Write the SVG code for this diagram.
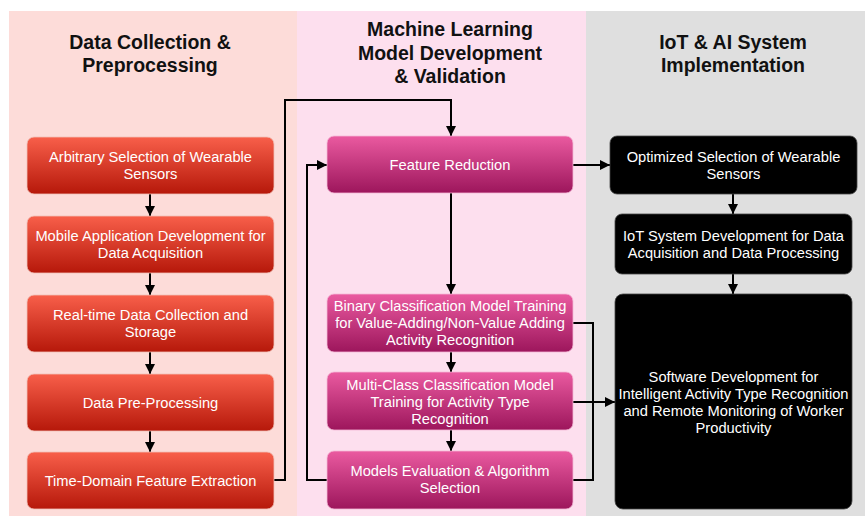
<svg xmlns="http://www.w3.org/2000/svg" width="865" height="518" viewBox="0 0 865 518">
  <defs>
    <linearGradient id="gRed" x1="0" y1="0" x2="0" y2="1">
      <stop offset="0" stop-color="#f85f4a"/>
      <stop offset="1" stop-color="#b6180a"/>
    </linearGradient>
    <linearGradient id="gPink" x1="0" y1="0" x2="0" y2="1">
      <stop offset="0" stop-color="#ea5aa0"/>
      <stop offset="1" stop-color="#9d165c"/>
    </linearGradient>
    <marker id="arr" viewBox="0 0 10 10" refX="10" refY="5" markerWidth="10" markerHeight="10" markerUnits="userSpaceOnUse" orient="auto">
      <path d="M0,0 L10,5 L0,10 Z" fill="#000"/>
    </marker>
  </defs>
  <style>
    .title { font-family: "Liberation Sans", Arial, sans-serif; font-weight: bold; font-size: 19.5px; fill: #111; text-anchor: middle; }
    .lbl { font-family: "Liberation Sans", Arial, sans-serif; font-size: 14.7px; fill: #fff; text-anchor: middle; }
    .red { fill: url(#gRed); stroke: #f0c0b8; stroke-width: 0.8; }
    .pink { fill: url(#gPink); stroke: #f4b8d6; stroke-width: 0.8; }
    .blk { fill: #000; stroke: #444; stroke-width: 0.8; }
    .ln { fill: none; stroke: #000; stroke-width: 2; }
  </style>

  <rect width="865" height="518" fill="#fff"/>

  <!-- column backgrounds -->
  <g id="lanes">
    <rect x="9" y="11" width="289" height="505" fill="#fddcd9"/>
    <rect x="297" y="11" width="289" height="505" fill="#fddfee"/>
    <rect x="586" y="11" width="279" height="505" fill="#dfdfdf"/>
  </g>

  <!-- column headings -->
  <g id="headings">
    <text class="title" x="150" y="49">Data Collection &amp;</text>
    <text class="title" x="150" y="72">Preprocessing</text>
    <text class="title" x="450" y="36">Machine Learning</text>
    <text class="title" x="450" y="59.5">Model Development</text>
    <text class="title" x="450" y="83">&amp; Validation</text>
    <text class="title" x="733" y="49">IoT &amp; AI System</text>
    <text class="title" x="733" y="72">Implementation</text>
  </g>

  <!-- connectors -->
  <g id="connectors">
    <line class="ln" x1="150" y1="194" x2="150" y2="216" marker-end="url(#arr)"/>
    <line class="ln" x1="150" y1="273" x2="150" y2="295" marker-end="url(#arr)"/>
    <line class="ln" x1="150" y1="352" x2="150" y2="374" marker-end="url(#arr)"/>
    <line class="ln" x1="150" y1="431" x2="150" y2="452" marker-end="url(#arr)"/>
    <polyline class="ln" points="274,480 285,480 285,100 451,100 451,136" marker-end="url(#arr)"/>
    <polyline class="ln" points="327,480 307,480 307,165 327,165" marker-end="url(#arr)"/>
    <line class="ln" x1="451" y1="193" x2="451" y2="294" marker-end="url(#arr)"/>
    <line class="ln" x1="451" y1="352" x2="451" y2="372" marker-end="url(#arr)"/>
    <line class="ln" x1="451" y1="430" x2="451" y2="451" marker-end="url(#arr)"/>
    <polyline class="ln" points="573,323 593,323 593,480 573,480"/>
    <line class="ln" x1="573" y1="402" x2="615" y2="402" marker-end="url(#arr)"/>
    <line class="ln" x1="573" y1="165" x2="610" y2="165" marker-end="url(#arr)"/>
    <line class="ln" x1="733" y1="194" x2="733" y2="214" marker-end="url(#arr)"/>
    <line class="ln" x1="733" y1="274" x2="733" y2="294" marker-end="url(#arr)"/>
  </g>

  <!-- data collection column -->
  <g id="n-arbitrary">
    <rect class="red" x="27" y="137" width="247" height="57" rx="7"/>
    <text class="lbl" x="150.5" y="162">Arbitrary Selection of Wearable</text>
    <text class="lbl" x="150.5" y="179">Sensors</text>
  </g>
  <g id="n-mobile">
    <rect class="red" x="27" y="216" width="247" height="57" rx="7"/>
    <text class="lbl" x="150.5" y="241">Mobile Application Development for</text>
    <text class="lbl" x="150.5" y="258">Data Acquisition</text>
  </g>
  <g id="n-realtime">
    <rect class="red" x="27" y="295" width="247" height="57" rx="7"/>
    <text class="lbl" x="150.5" y="320">Real-time Data Collection and</text>
    <text class="lbl" x="150.5" y="337">Storage</text>
  </g>
  <g id="n-preproc">
    <rect class="red" x="27" y="374" width="247" height="57" rx="7"/>
    <text class="lbl" x="150.5" y="407.5">Data Pre-Processing</text>
  </g>
  <g id="n-timedomain">
    <rect class="red" x="27" y="452" width="247" height="57" rx="7"/>
    <text class="lbl" x="150.5" y="485.5">Time-Domain Feature Extraction</text>
  </g>

  <!-- model development column -->
  <g id="n-reduction">
    <rect class="pink" x="327" y="136" width="246" height="57" rx="7"/>
    <text class="lbl" x="450" y="170">Feature Reduction</text>
  </g>
  <g id="n-binary">
    <rect class="pink" x="327" y="294" width="246" height="58" rx="7"/>
    <text class="lbl" x="450" y="311">Binary Classification Model Training</text>
    <text class="lbl" x="450" y="328">for Value-Adding/Non-Value Adding</text>
    <text class="lbl" x="450" y="345">Activity Recognition</text>
  </g>
  <g id="n-multiclass">
    <rect class="pink" x="327" y="372" width="246" height="58" rx="7"/>
    <text class="lbl" x="450" y="389.5">Multi-Class Classification Model</text>
    <text class="lbl" x="450" y="406.5">Training for Activity Type</text>
    <text class="lbl" x="450" y="423.5">Recognition</text>
  </g>
  <g id="n-evaluation">
    <rect class="pink" x="327" y="451" width="246" height="58" rx="7"/>
    <text class="lbl" x="450" y="476">Models Evaluation &amp; Algorithm</text>
    <text class="lbl" x="450" y="493">Selection</text>
  </g>

  <!-- implementation column -->
  <g id="n-optimized">
    <rect class="blk" x="610" y="136" width="247" height="58" rx="7"/>
    <text class="lbl" x="733.5" y="162">Optimized Selection of Wearable</text>
    <text class="lbl" x="733.5" y="179">Sensors</text>
  </g>
  <g id="n-iot">
    <rect class="blk" x="615" y="214" width="237" height="60" rx="7"/>
    <text class="lbl" x="733.5" y="241">IoT System Development for Data</text>
    <text class="lbl" x="733.5" y="258">Acquisition and Data Processing</text>
  </g>
  <g id="n-software">
    <rect class="blk" x="615" y="294" width="237" height="215" rx="8"/>
    <text class="lbl" x="733.5" y="382">Software Development for</text>
    <text class="lbl" x="733.5" y="399">Intelligent Activity Type Recognition</text>
    <text class="lbl" x="733.5" y="416">and Remote Monitoring of Worker</text>
    <text class="lbl" x="733.5" y="433">Productivity</text>
  </g>
</svg>
